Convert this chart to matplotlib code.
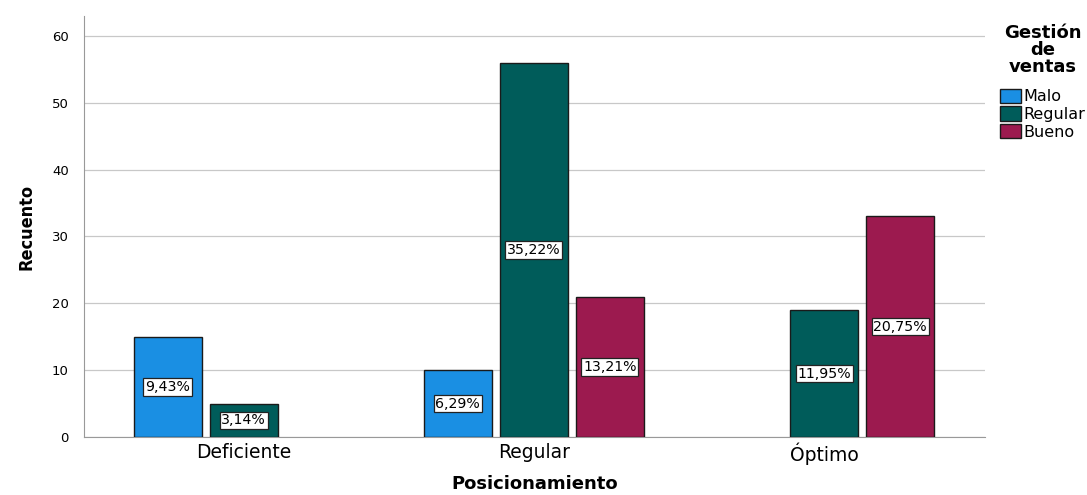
import numpy as np
import matplotlib.pyplot as plt

categorias = ["Deficiente", "Regular", "Óptimo"]
series = ["Malo", "Regular", "Bueno"]
malo = [15, 10, 0]
regular = [5, 56, 19]
bueno = [0, 21, 33]
colores = ["#1a8fe3", "#005c5a", "#9c1a4f"]

valores = [malo, regular, bueno]
total = sum(sum(v) for v in valores)

plt.rcParams['font.family'] = ['DejaVu Sans']

fig = plt.figure(figsize=(10.87, 4.95), dpi=100)
ax = fig.add_axes([0.0773, 0.117, 0.829, 0.851])

x = np.arange(len(categorias))
paso = 0.262
ancho = 0.234

for i, (nombre, vals, col) in enumerate(zip(series, valores, colores)):
    pos = x + (i - 1) * paso
    for xp, v in zip(pos, vals):
        if v == 0:
            continue
        ax.bar(xp, v, width=ancho, color=col, edgecolor="#1a1a1a", linewidth=1, zorder=3)
        pct = f"{v / total * 100:.2f}%".replace(".", ",")
        ax.text(xp, v / 2, pct, ha="center", va="center", fontsize=10.2, zorder=4,
                bbox=dict(boxstyle="square,pad=0.12", fc="white", ec="#222222", lw=0.9))
    ax.bar(0, 0, width=0, color=col, edgecolor="#1a1a1a", label=nombre)

ax.set_xlim(-0.55, 2.555)
ax.set_ylim(0, 63)
ax.set_yticks(range(0, 61, 10))
ax.set_xticks(x)
ax.set_xticklabels(categorias, fontsize=13.5)
ax.tick_params(axis="x", length=0, pad=4)
ax.tick_params(axis="y", labelsize=9.5, length=0, pad=11)
ax.grid(axis="y", color="#c8c8c8", linewidth=0.9, zorder=0)

for s in ["top", "right"]:
    ax.spines[s].set_visible(False)
ax.spines["left"].set_color("#999999")
ax.spines["bottom"].set_color("#999999")

ax.set_xlabel("Posicionamiento", fontsize=13, fontweight="bold", labelpad=7)
ax.set_ylabel("Recuento", fontsize=13, fontweight="bold", fontstretch="condensed",
              family=['Liberation Sans Narrow', 'DejaVu Sans'], labelpad=12)

leg = fig.legend(title="Gestión\nde\nventas", loc="upper right",
                 bbox_to_anchor=(1.004, 0.965), frameon=False, fontsize=11.5,
                 title_fontproperties={"weight": "bold", "size": 13},
                 handlelength=1.3, handleheight=1.0, handletextpad=0.15,
                 labelspacing=0.12, borderaxespad=0.2, borderpad=0.2)
leg.get_title().set_multialignment("center")
leg.get_title().set_linespacing(0.95)
# a little more room between the title and the entries
leg._legend_box.sep = 9

fig.savefig("out.png", dpi=100)
